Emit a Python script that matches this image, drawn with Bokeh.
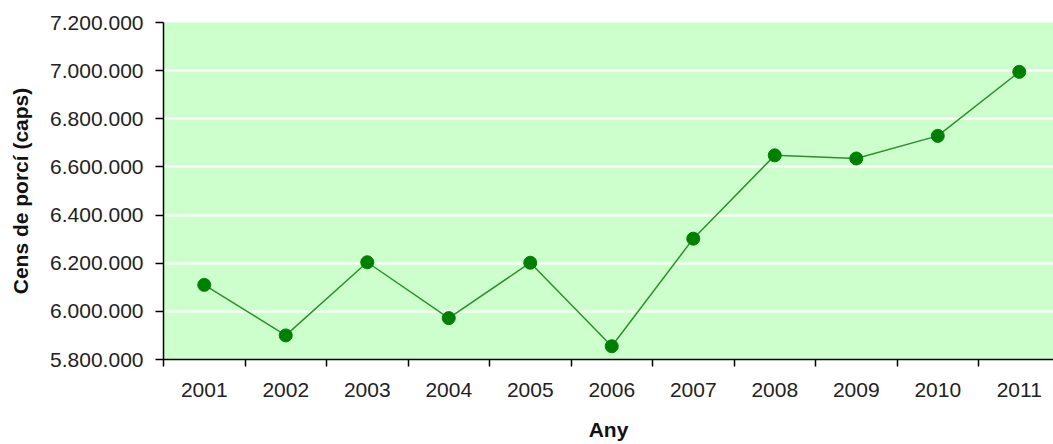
from bokeh.plotting import figure
from bokeh.models import FixedTicker, CustomJSTickFormatter, Range1d, ColumnDataSource
from bokeh.embed import file_html
from bokeh.resources import INLINE

years = ["2001", "2002", "2003", "2004", "2005", "2006", "2007", "2008", "2009", "2010", "2011"]
cens = [6110000, 5900000, 6204000, 5972000, 6202000, 5855000, 6302000, 6648000, 6635000, 6729000, 6995000]
y_ticks = [5800000, 6000000, 6200000, 6400000, 6600000, 6800000, 7000000, 7200000]

xpos = list(range(1, len(years) + 1))
src = ColumnDataSource(dict(x=xpos, y=cens))

p = figure(width=1053, height=444, output_backend="svg", toolbar_location=None,
           x_range=Range1d(0.5, 11.42), y_range=Range1d(5800000, 7200000),
           min_border_left=163, min_border_right=0, min_border_top=22, min_border_bottom=85)
p.outline_line_color = None
p.background_fill_color = "#ccffcc"
p.border_fill_color = "white"

p.line("x", "y", source=src, line_color="#2f8f2f", line_width=1.5)
p.scatter("x", "y", source=src, size=13, fill_color="#008000", line_color="#008000")

font = "Liberation Sans"
# x axis
p.xaxis.ticker = FixedTicker(ticks=xpos, minor_ticks=[x - 0.5 for x in xpos] + [xpos[-1] + 0.5])
p.xaxis.major_label_overrides = {x: y for x, y in zip(xpos, years)}
p.xaxis.major_tick_line_color = None
p.xaxis.minor_tick_out = 7
p.xaxis.minor_tick_in = 0
p.xaxis.minor_tick_line_color = "black"
p.xaxis.minor_tick_line_width = 1.5
p.xaxis.major_label_standoff = 16
p.xaxis.axis_label = "Any"
p.xaxis.axis_label_standoff = 18
p.xaxis.axis_label_text_font_style = "bold"

# y axis
p.yaxis.ticker = FixedTicker(ticks=y_ticks, minor_ticks=[])
p.yaxis.formatter = CustomJSTickFormatter(code="return Math.round(tick).toString().replace(/\\B(?=(\\d{3})+(?!\\d))/g, '.');")
p.yaxis.major_tick_out = 8
p.yaxis.major_tick_in = 0
p.yaxis.major_label_standoff = 12
p.yaxis.axis_label = "Cens de porcí (caps)"
p.yaxis.axis_label_standoff = 15
p.yaxis.axis_label_text_font_style = "bold"

for ax in (p.xaxis, p.yaxis):
    ax.axis_line_color = "black"
    ax.axis_line_width = 1.5
    ax.major_tick_line_width = 1.5
    ax.major_label_text_font = font
    ax.major_label_text_font_size = "21px"
    ax.major_label_text_color = "#222222"
    ax.axis_label_text_font = font
    ax.axis_label_text_font_size = "21px"
    ax.axis_label_text_color = "#111111"

p.xgrid.grid_line_color = None
p.ygrid.ticker = FixedTicker(ticks=y_ticks)
p.ygrid.grid_line_color = "white"
p.ygrid.grid_line_width = 2

open("out.html", "w").write(file_html(p, INLINE))
